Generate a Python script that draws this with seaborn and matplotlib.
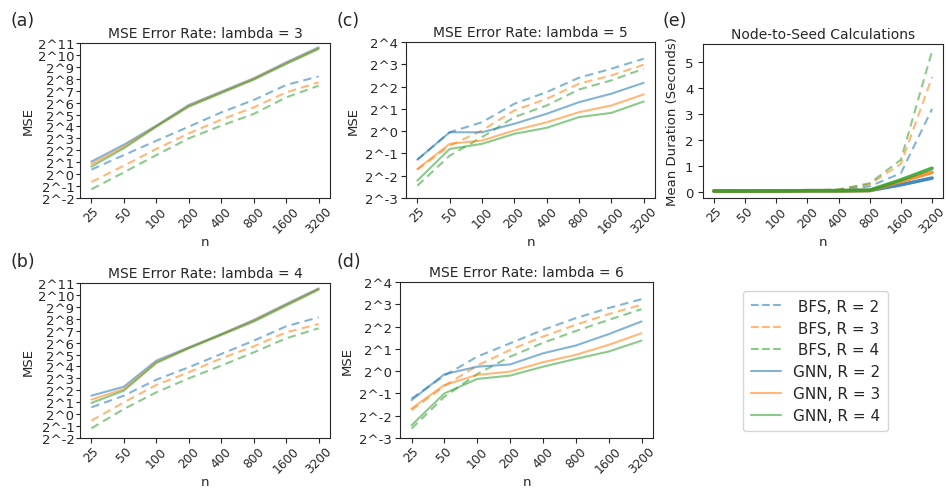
import numpy as np
import pandas as pd
import matplotlib
matplotlib.use("Agg")
import matplotlib.pyplot as plt
import seaborn as sns

n_labels = ["25", "50", "100", "200", "400", "800", "1600", "3200"]
series_labels = ["BFS, R = 2", "BFS, R = 3", "BFS, R = 4",
                 "GNN, R = 2", "GNN, R = 3", "GNN, R = 4"]

# log2(MSE) values
lam3 = {
    "BFS, R = 2": [0.38, 1.6, 2.8, 3.98, 5.18, 6.22, 7.48, 8.2],
    "BFS, R = 3": [-0.66, 0.71, 2.11, 3.42, 4.57, 5.6, 6.86, 7.7],
    "BFS, R = 4": [-1.27, 0.15, 1.6, 3.0, 4.07, 5.05, 6.44, 7.42],
    "GNN, R = 2": [1.05, 2.47, 4.07, 5.8, 6.92, 8.04, 9.38, 10.64],
    "GNN, R = 3": [0.85, 2.3, 4.02, 5.72, 6.86, 7.98, 9.3, 10.55],
    "GNN, R = 4": [0.63, 2.17, 3.98, 5.66, 6.8, 7.92, 9.24, 10.5],
}
lam4 = {
    "BFS, R = 2": [0.57, 1.55, 2.89, 3.93, 5.05, 6.16, 7.37, 8.12],
    "BFS, R = 3": [-0.55, 0.99, 2.45, 3.51, 4.68, 5.69, 6.86, 7.56],
    "BFS, R = 4": [-1.19, 0.43, 1.83, 3.0, 4.07, 5.18, 6.36, 7.2],
    "GNN, R = 2": [1.55, 2.3, 4.49, 5.6, 6.72, 7.9, 9.24, 10.55],
    "GNN, R = 3": [1.22, 2.1, 4.35, 5.56, 6.68, 7.83, 9.17, 10.5],
    "GNN, R = 4": [0.94, 1.97, 4.29, 5.52, 6.64, 7.76, 9.1, 10.44],
}
lam5 = {
    "BFS, R = 2": [-1.28, -0.05, 0.4, 1.23, 1.75, 2.4, 2.8, 3.25],
    "BFS, R = 3": [-1.73, -0.65, 0.03, 0.93, 1.45, 2.13, 2.5, 2.98],
    "BFS, R = 4": [-2.45, -1.1, -0.27, 0.63, 1.15, 1.87, 2.28, 2.8],
    "GNN, R = 2": [-1.28, -0.05, -0.05, 0.33, 0.78, 1.3, 1.68, 2.17],
    "GNN, R = 3": [-1.7, -0.57, -0.42, 0.03, 0.4, 0.85, 1.15, 1.65],
    "GNN, R = 4": [-2.22, -0.8, -0.57, -0.12, 0.15, 0.63, 0.82, 1.33],
}
lam6 = {
    "BFS, R = 2": [-1.23, -0.2, 0.65, 1.25, 1.85, 2.38, 2.83, 3.23],
    "BFS, R = 3": [-1.75, -0.67, 0.25, 0.95, 1.55, 2.08, 2.56, 2.98],
    "BFS, R = 4": [-2.58, -1.15, -0.13, 0.65, 1.27, 1.8, 2.3, 2.78],
    "GNN, R = 2": [-1.3, -0.14, 0.2, 0.3, 0.8, 1.15, 1.66, 2.23],
    "GNN, R = 3": [-1.68, -0.62, -0.17, -0.02, 0.4, 0.73, 1.18, 1.7],
    "GNN, R = 4": [-2.43, -1.0, -0.35, -0.2, 0.2, 0.55, 0.88, 1.37],
}
# mean duration in seconds
duration = {
    "BFS, R = 2": [0.02, 0.02, 0.03, 0.03, 0.06, 0.2, 0.71, 3.19],
    "BFS, R = 3": [0.02, 0.02, 0.03, 0.04, 0.07, 0.28, 1.07, 4.43],
    "BFS, R = 4": [0.02, 0.02, 0.03, 0.04, 0.08, 0.32, 1.23, 5.43],
    "GNN, R = 2": [0.02, 0.02, 0.02, 0.03, 0.03, 0.04, 0.26, 0.52],
    "GNN, R = 3": [0.02, 0.02, 0.02, 0.03, 0.03, 0.04, 0.39, 0.74],
    "GNN, R = 4": [0.02, 0.02, 0.02, 0.03, 0.03, 0.05, 0.45, 0.9],
}

colors = ["#1f77b4", "#ff7f0e", "#2ca02c"] * 2
palette = dict(zip(series_labels, colors))
dashes = {s: ((4, 2.5) if s.startswith("BFS") else "") for s in series_labels}

TICK_FS = 9.5
XTICK_FS = 8.8
LABEL_FS = 9.5


def to_long(d, log2=False):
    rows = []
    for s in series_labels:
        for n, v in zip(n_labels, d[s]):
            rows.append({"n": n, "val": (2.0 ** v) if log2 else v, "series": s})
    return pd.DataFrame(rows)


sns.set_style("ticks")
plt.rcParams["font.family"] = ["DejaVu Sans"]
W, H = 948, 489
fig = plt.figure(figsize=(W / 100, H / 100), dpi=100)


def add_ax(l, r, t, b):
    return fig.add_axes([l / W, 1 - b / H, (r - l) / W, (b - t) / H])


def style_x(ax):
    ax.set_xlabel("n", fontsize=LABEL_FS, labelpad=0)
    ax.tick_params(axis="x", rotation=45, labelsize=XTICK_FS, pad=1)
    ax.set_xlim(-0.35, 7.35)
    for lbl in ax.get_xticklabels():
        lbl.set_ha("center")
        lbl.set_va("top")
    for sp in ax.spines.values():
        sp.set_visible(True)


def mse_panel(ax, d, title, lo, hi):
    df = to_long(d, log2=True)
    sns.lineplot(data=df, x="n", y="val", hue="series", style="series",
                 palette=palette, dashes=dashes, alpha=0.55, linewidth=1.5,
                 ax=ax, legend=False)
    ax.set_yscale("log", base=2)
    ax.set_ylim(2.0 ** lo, 2.0 ** hi)
    ks = list(range(lo, hi + 1))
    ax.set_yticks([2.0 ** k for k in ks])
    ax.set_yticklabels([f"2^{k}" for k in ks])
    ax.yaxis.set_minor_locator(matplotlib.ticker.NullLocator())
    ax.set_title(title, fontsize=10, pad=4)
    ax.set_ylabel("MSE", fontsize=LABEL_FS)
    ax.tick_params(axis="y", labelsize=TICK_FS, pad=2)
    style_x(ax)


axa = add_ax(80, 330, 44, 199)
mse_panel(axa, lam3, "MSE Error Rate: lambda = 3", -2, 11)
axb = add_ax(80, 330, 284, 439)
mse_panel(axb, lam4, "MSE Error Rate: lambda = 4", -2, 11)
axc = add_ax(406, 655, 43, 199)
mse_panel(axc, lam5, "MSE Error Rate: lambda = 5", -3, 4)
axd = add_ax(400, 653, 283, 439)
mse_panel(axd, lam6, "MSE Error Rate: lambda = 6", -3, 4)
for ax in (axa, axb):
    ax.tick_params(axis="y", labelsize=TICK_FS, pad=1, length=3)
    ax.yaxis.labelpad = 2

axe = add_ax(703, 943, 45, 199)
dfe = to_long(duration)
sns.lineplot(data=dfe, x="n", y="val", hue="series", style="series",
             palette=palette, dashes=dashes, alpha=0.55, linewidth=1.5,
             ax=axe, legend=False)
for line, s in zip(axe.get_lines(), series_labels):
    if s.startswith("GNN"):
        line.set_linewidth(2.6)
        line.set_alpha(0.85)
axe.set_yticks([0, 1, 2, 3, 4, 5])
axe.set_title("Node-to-Seed Calculations", fontsize=10, pad=4)
axe.set_ylabel("Mean Duration (Seconds)", fontsize=LABEL_FS)
axe.tick_params(axis="y", labelsize=TICK_FS)
style_x(axe)

# legend
handles = []
for s in series_labels:
    ls = "--" if s.startswith("BFS") else "-"
    h, = axe.plot([], [], color=palette[s], linestyle=ls, alpha=0.55, linewidth=1.5)
    handles.append(h)
leg_labels = [(" " + s) if s.startswith("BFS") else s for s in series_labels]
fig.legend(handles, leg_labels, loc="upper left",
           bbox_to_anchor=(743 / W, 1 - 292 / H), fontsize=11,
           frameon=True, handlelength=2.0, labelspacing=0.45,
           borderpad=0.5, borderaxespad=0.0, fancybox=True)

for txt, x, y in [("(a)", 11, 21), ("(b)", 11, 262), ("(c)", 337, 21),
                  ("(d)", 337, 262), ("(e)", 662, 21)]:
    fig.text(x / W, 1 - y / H, txt, fontsize=12.5, va="center", ha="left")

fig.savefig("out.png", dpi=100)
